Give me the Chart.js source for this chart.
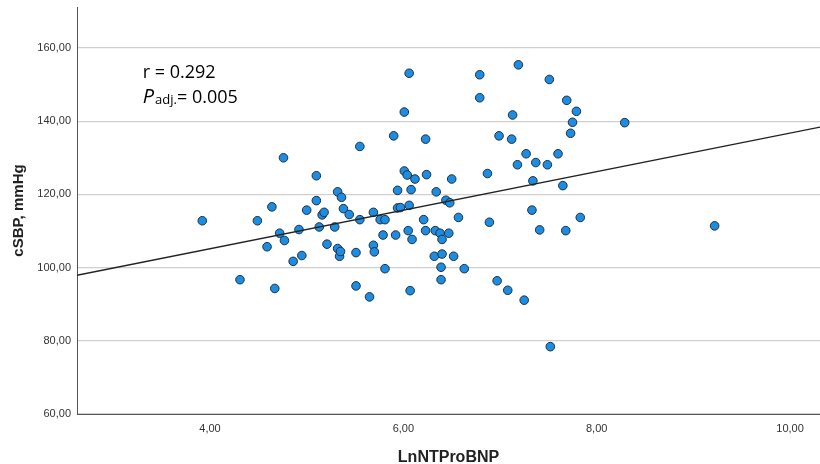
<!DOCTYPE html>
<html>
<head>
    <title>cSBP vs LnNTProBNP</title>
    <style>
        html, body { margin: 0; padding: 0; background: #fff; }
        #wrap { width: 820px; height: 464px; }
    </style>
</head>
<body>
    <div id="wrap"><canvas id="scatter" width="820" height="464"></canvas></div>
    <script src="https://cdn.jsdelivr.net/npm/chart.js"></script>
    <script>
        // values
        const lnNtProBnp = [3.92, 4.31, 4.49, 4.59, 4.64, 4.67, 4.72, 4.76, 4.77, 4.86, 4.92, 4.95, 5.00, 5.10, 5.10,
            5.13, 5.16, 5.18, 5.21, 5.29, 5.32, 5.32, 5.34, 5.35, 5.36, 5.38, 5.44, 5.51, 5.51, 5.55,
            5.55, 5.65, 5.69, 5.69, 5.70, 5.76, 5.79, 5.81, 5.81, 5.90, 5.92, 5.94, 5.94, 5.97, 6.01,
            6.01, 6.04, 6.05, 6.06, 6.06, 6.07, 6.08, 6.09, 6.12, 6.21, 6.23, 6.23, 6.24, 6.32, 6.33,
            6.34, 6.38, 6.39, 6.39, 6.40, 6.40, 6.44, 6.47, 6.48, 6.50, 6.52, 6.57, 6.63, 6.79, 6.79,
            6.87, 6.89, 6.97, 6.99, 7.08, 7.12, 7.13, 7.18, 7.19, 7.25, 7.27, 7.33, 7.34, 7.37, 7.41,
            7.49, 7.51, 7.52, 7.60, 7.65, 7.68, 7.69, 7.73, 7.75, 7.79, 7.83, 8.29, 9.22];
        const cSbp = [112.8, 96.7, 112.8, 105.7, 116.6, 94.3, 109.4, 130.0, 107.4, 101.7, 110.4, 103.3, 115.7, 125.1, 118.3,
            111.1, 114.4, 115.1, 106.4, 111.1, 120.7, 105.2, 103.1, 104.4, 119.2, 116.1, 114.5, 104.1, 95.0, 133.1,
            113.1, 92.0, 115.1, 106.1, 104.3, 113.1, 108.9, 113.1, 99.7, 136.0, 108.9, 121.1, 116.3, 116.4, 142.5,
            126.4, 125.3, 110.1, 153.1, 117.0, 93.7, 121.3, 107.7, 124.2, 113.1, 135.1, 110.1, 125.4, 103.1, 110.1,
            120.7, 109.4, 100.1, 96.7, 107.7, 103.7, 118.4, 109.4, 117.7, 124.2, 103.1, 113.7, 99.7, 152.7, 146.4,
            125.7, 112.4, 96.4, 136.0, 93.8, 135.1, 141.7, 128.1, 155.4, 91.1, 131.1, 115.7, 123.7, 128.7, 110.3,
            128.1, 151.4, 78.4, 131.1, 122.4, 110.1, 145.7, 136.7, 139.7, 142.7, 113.7, 139.6, 111.4];

        // fit line end points (at the axis limits)
        const fitX = [2.624, 10.31];
        const fitY = [97.9, 138.4];

        const xTicks = [4, 6, 8, 10];
        const yTicks = [60, 80, 100, 120, 140, 160];
        const xRange = [2.624, 10.31];
        const yRange = [60, 171.2];

        const statLines = ["r = 0.292", "0.005"];

        const commaFmt = v => v.toFixed(2).replace(".", ",");

        const statsLabel = {
            id: "statsLabel",
            afterDraw(chart) {
                const ctx = chart.ctx;
                const xs = chart.scales.x, ys = chart.scales.y;
                const x0 = xs.getPixelForValue(3.304);
                ctx.save();
                ctx.fillStyle = "#000";
                ctx.textBaseline = "alphabetic";
                ctx.font = "18px 'Open Sans'";
                ctx.fillText(statLines[0], x0, ys.getPixelForValue(151.9));
                const yb = ys.getPixelForValue(145.0);
                ctx.font = "italic 20px 'Open Sans'";
                ctx.fillText("P", x0, yb);
                let x = x0 + ctx.measureText("P").width + 1;
                ctx.font = "13px 'Open Sans'";
                ctx.fillText("adj.", x, yb + 1);
                x += ctx.measureText("adj.").width;
                ctx.font = "18px 'Open Sans'";
                ctx.fillText("= " + statLines[1], x, yb);
                ctx.restore();
            }
        };

        new Chart(document.getElementById("scatter").getContext("2d"), {
            type: "scatter",
            data: {
                datasets: [{
                    label: "cases",
                    data: lnNtProBnp.map((v, i) => ({ x: v, y: cSbp[i] })),
                    backgroundColor: "#1c8de0",
                    borderColor: "#1f2f44",
                    borderWidth: 1,
                    pointRadius: 4.3,
                    order: 2
                }, {
                    type: "line",
                    label: "fit",
                    data: fitX.map((v, i) => ({ x: v, y: fitY[i] })),
                    borderColor: "#222",
                    borderWidth: 1.3,
                    pointRadius: 0,
                    fill: false,
                    order: 1
                }]
            },
            options: {
                responsive: false,
                animation: false,
                layout: { autoPadding: false, padding: { top: 7, right: 0, left: 0, bottom: 0 } },
                plugins: { legend: { display: false }, tooltip: { enabled: false } },
                scales: {
                    x: {
                        type: "linear",
                        min: xRange[0],
                        max: xRange[1],
                        afterBuildTicks: s => { s.ticks = xTicks.map(v => ({ value: v })); },
                        afterFit: s => { s.height = 50; },
                        grid: { display: false, drawTicks: false },
                        border: { display: true, color: "#555", width: 1 },
                        ticks: {
                            callback: v => commaFmt(v),
                            color: "#333",
                            font: { family: "'Liberation Sans', Arial", size: 11 },
                            padding: 8,
                            maxRotation: 0
                        },
                        title: {
                            display: true,
                            text: "LnNTProBNP",
                            color: "#222",
                            font: { family: "'Liberation Sans', Arial", size: 16, weight: "bold" },
                            padding: { top: 0, bottom: -3 }
                        }
                    },
                    y: {
                        min: yRange[0],
                        max: yRange[1],
                        afterBuildTicks: s => { s.ticks = yTicks.map(v => ({ value: v })); },
                        afterFit: s => { s.width = 77; s.paddingTop = 0; s.paddingBottom = 0; },
                        grid: { color: "#d0d0d0", lineWidth: 1.2, drawTicks: false },
                        border: { display: true, color: "#555", width: 1 },
                        ticks: {
                            callback: v => commaFmt(v),
                            color: "#333",
                            font: { family: "'Liberation Sans', Arial", size: 11 },
                            padding: 6
                        },
                        title: {
                            display: true,
                            text: "cSBP, mmHg",
                            color: "#222",
                            font: { family: "'Liberation Sans', Arial", size: 15, weight: "bold" },
                            padding: { top: 10, bottom: 0 }
                        }
                    }
                }
            },
            plugins: [statsLabel]
        });
    </script>
</body>
</html>
